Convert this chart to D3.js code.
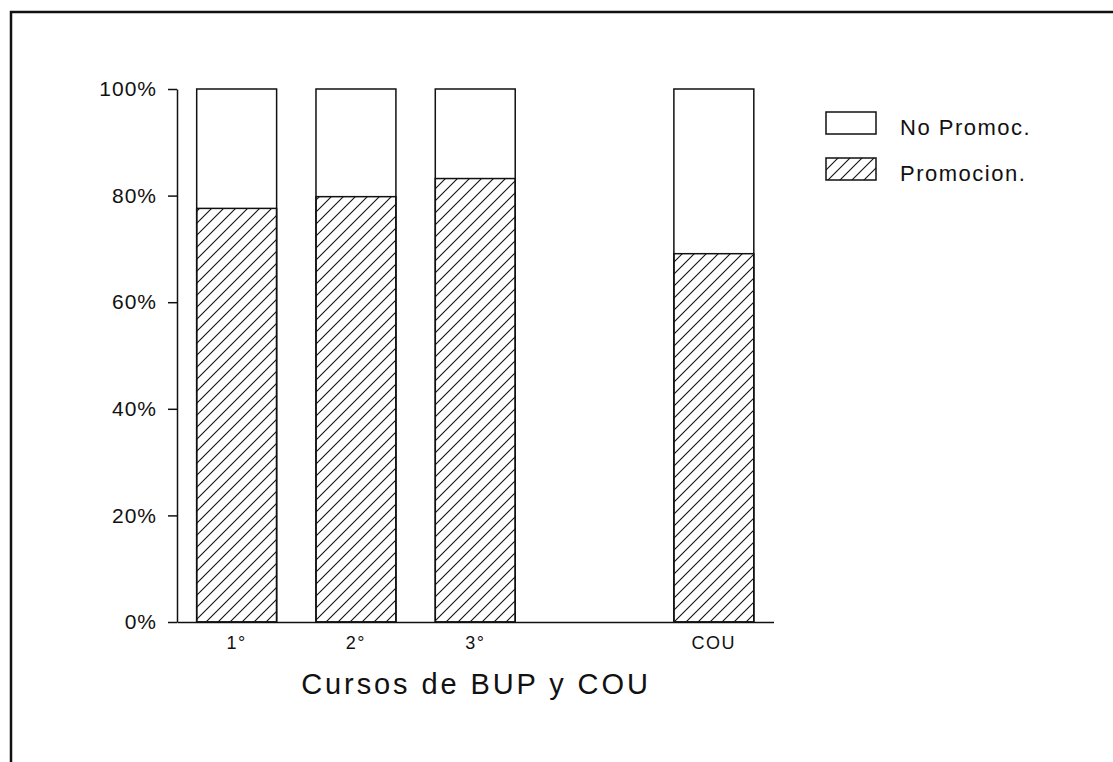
<!DOCTYPE html>
<html lang="es">
<head>
    <meta charset="UTF-8">
    <title>Cursos de BUP y COU</title>
    <style>
        body {
            margin: 0;
            background-color: #fff;
        }
        svg text {
            font-family: "Liberation Sans", Arial, sans-serif;
            fill: #111;
        }
    </style>
    <script src="https://d3js.org/d3.v7.min.js"></script>
</head>
<body>
    <div id="chart"></div>
    <script>
        // Data
        const slots = ["1°", "2°", "3°", "", "COU"];   // empty slot = gap before COU
        const cursos = ["1°", "2°", "3°", "COU"];
        const promocion = [77.6, 79.8, 83.2, 69.1];
        const yTicks = [0, 20, 40, 60, 80, 100];
        const legendItems = ["No Promoc.", "Promocion."];

        const width = 1113;
        const height = 762;

        const svg = d3.select('#chart').append('svg')
            .attr('width', width)
            .attr('height', height);

        // hatch pattern
        const defs = svg.append('defs');
        const hatch = defs.append('pattern')
            .attr('id', 'hatch')
            .attr('patternUnits', 'userSpaceOnUse')
            .attr('width', 12)
            .attr('height', 12);
        hatch.append('path')
            .attr('d', 'M0,12 L12,0 M-3,3 L3,-3 M9,15 L15,9')
            .attr('stroke', '#111')
            .attr('stroke-width', 1.1);

        // outer frame (only top and left edges are visible)
        svg.append('path')
            .attr('d', 'M11,' + height + ' L11,12 L' + width + ',12')
            .attr('fill', 'none')
            .attr('stroke', '#111')
            .attr('stroke-width', 2.5);

        const x = d3.scaleBand()
            .domain(slots)
            .range([177, 773.5])
            .paddingInner(0.33)
            .paddingOuter(0.165);

        const y = d3.scaleLinear()
            .domain([0, 100])
            .range([622, 89]);

        // y axis
        const yAxis = svg.append('g')
            .attr('transform', 'translate(177,0)')
            .call(d3.axisLeft(y)
                .tickValues(yTicks)
                .tickFormat(d => d + '%')
                .tickSize(9)
                .tickSizeOuter(0)
                .tickPadding(11));
        yAxis.select('.domain').attr('stroke', '#111').attr('stroke-width', 1.5);
        yAxis.selectAll('.tick line').attr('stroke', '#111').attr('stroke-width', 1.5);
        yAxis.selectAll('.tick text')
            .attr('font-size', 21)
            .attr('letter-spacing', 1)
            .style('font-family', '"Liberation Sans", Arial, sans-serif')
            .attr('fill', '#111');

        // x axis
        const xAxis = svg.append('g')
            .attr('transform', 'translate(0,622)')
            .call(d3.axisBottom(x)
                .tickSize(0)
                .tickSizeOuter(0)
                .tickPadding(14));
        xAxis.select('.domain').attr('stroke', '#111').attr('stroke-width', 1.5);
        xAxis.selectAll('.tick text')
            .attr('font-size', 18)
            .attr('letter-spacing', 1.5)
            .style('font-family', '"Liberation Sans", Arial, sans-serif')
            .attr('fill', '#111');

        // bars
        const bars = svg.append('g').selectAll('g')
            .data(cursos)
            .enter().append('g');

        bars.append('rect')
            .attr('x', d => x(d))
            .attr('y', y(100))
            .attr('width', x.bandwidth())
            .attr('height', y(0) - y(100))
            .attr('fill', '#fff')
            .attr('stroke', '#111')
            .attr('stroke-width', 1.5);

        bars.append('rect')
            .attr('x', d => x(d))
            .attr('y', (d, i) => y(promocion[i]))
            .attr('width', x.bandwidth())
            .attr('height', (d, i) => y(0) - y(promocion[i]))
            .attr('fill', 'url(#hatch)')
            .attr('stroke', '#111')
            .attr('stroke-width', 1.5);

        // axis title
        svg.append('text')
            .attr('x', 476)
            .attr('y', 694)
            .attr('text-anchor', 'middle')
            .attr('font-size', 29)
            .attr('letter-spacing', 2.9)
            .text('Cursos de BUP y COU');

        // legend
        const legend = svg.append('g').selectAll('g')
            .data(legendItems)
            .enter().append('g')
            .attr('transform', (d, i) => 'translate(826,' + (112 + i * 46) + ')');

        legend.append('rect')
            .attr('width', 50)
            .attr('height', 22)
            .attr('fill', (d, i) => i === 0 ? '#fff' : 'url(#hatch)')
            .attr('stroke', '#111')
            .attr('stroke-width', 1.5);

        legend.append('text')
            .attr('x', 74)
            .attr('y', 23)
            .attr('font-size', 22)
            .attr('letter-spacing', 1.5)
            .text(d => d);
    </script>
</body>
</html>
